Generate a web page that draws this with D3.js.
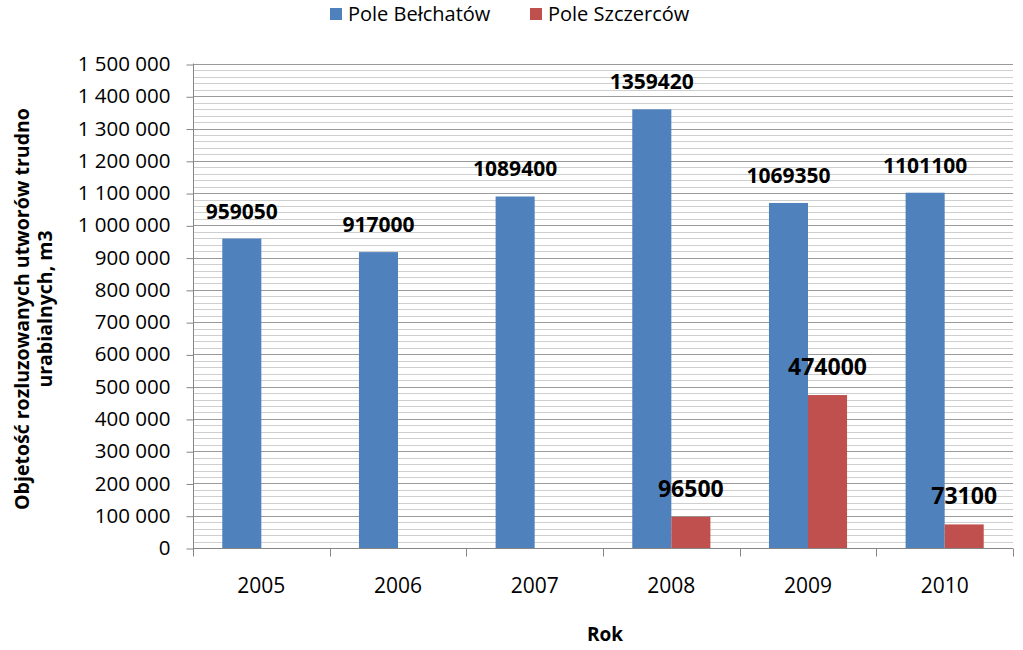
<!DOCTYPE html>
<html>
<head>
<meta charset="utf-8">
<script src="https://cdn.jsdelivr.net/npm/d3@7"></script>
<style>
  body { margin: 0; background: #fff; }
  text { font-family: "Open Sans", sans-serif; fill: #000; }
</style>
</head>
<body>
<svg id="chart" width="1023" height="650"></svg>
<script>
////////////////////////////////////////////////////////////////////////////////////
// Data
var years = ["2005", "2006", "2007", "2008", "2009", "2010"];
var seriesNames = ["Pole Bełchatów", "Pole Szczerców"];
var belchatow = [959050, 917000, 1089400, 1359420, 1069350, 1101100];
var szczercow = [null, null, null, 96500, 474000, 73100];
var yTicks = [0, 100000, 200000, 300000, 400000, 500000, 600000, 700000,
              800000, 900000, 1000000, 1100000, 1200000, 1300000, 1400000, 1500000];

var colors = ["#4F81BD", "#C0504D"];
var labelSizes = ["21px", "23px"]; // red labels are drawn a bit larger

////////////////////////////////////////////////////////////////////////////////////
// Setup
var svg = d3.select("#chart");
var plotLeft = 193, plotRight = 1013, plotTop = 64, plotBottom = 548;

var xScale = d3.scaleBand().domain(years).range([plotLeft, plotRight]).padding(0);
var yScale = d3.scaleLinear().domain([0, 1500000]).range([plotBottom, plotTop]);

// grouped bars: gap width 150% like excel
var bw = xScale.bandwidth();
var groupW = bw * 2 / 3.5;
var xInner = d3.scaleBand().domain(seriesNames).range([(bw - groupW) / 2, (bw + groupW) / 2]);

var fmt = function(d) { return d3.format(",")(d).replace(/,/g, " "); };

////////////////////////////////////////////////////////////////////////////////////
// Gridlines (minor every 20 000, major every 100 000)
var minor = d3.range(20000, 1500001, 20000).filter(function(d) { return d % 100000 != 0; });
svg.append("g").selectAll("line")
   .data(minor)
   .enter().append("line")
   .attr("x1", plotLeft).attr("x2", plotRight)
   .attr("y1", function(d) { return Math.round(yScale(d)) + 0.5; })
   .attr("y2", function(d) { return Math.round(yScale(d)) + 0.5; })
   .style("stroke", "#cfcfcf").style("stroke-width", 1);

svg.append("g").selectAll("line")
   .data(yTicks.slice(1))
   .enter().append("line")
   .attr("x1", plotLeft).attr("x2", plotRight)
   .attr("y1", function(d) { return Math.round(yScale(d)) + 0.5; })
   .attr("y2", function(d) { return Math.round(yScale(d)) + 0.5; })
   .style("stroke", "#9a9a9a").style("stroke-width", 1);

////////////////////////////////////////////////////////////////////////////////////
// Bars
var rows = years.map(function(y, i) {
  return { year: y, values: [
    { name: seriesNames[0], value: belchatow[i], color: colors[0], size: labelSizes[0] },
    { name: seriesNames[1], value: szczercow[i], color: colors[1], size: labelSizes[1] }
  ]};
});

var group = svg.selectAll(".yearGroup")
               .data(rows)
               .enter().append("g")
               .attr("class", "yearGroup")
               .attr("transform", function(d) { return "translate(" + xScale(d.year) + ",0)"; });

group.selectAll("rect")
     .data(function(d) { return d.values.filter(function(v) { return v.value != null; }); })
     .enter().append("rect")
     .attr("x", function(d) { return xInner(d.name); })
     .attr("width", xInner.bandwidth())
     .attr("y", function(d) { return yScale(d.value); })
     .attr("height", function(d) { return plotBottom - yScale(d.value); })
     .style("fill", function(d) { return d.color; });

// data labels
group.selectAll(".label")
     .data(function(d) { return d.values.filter(function(v) { return v.value != null; }); })
     .enter().append("text")
     .attr("class", "label")
     .attr("x", function(d) { return xInner(d.name) + xInner.bandwidth() / 2; })
     .attr("y", function(d) { return yScale(d.value) - 20; })
     .attr("text-anchor", "middle")
     .style("font-size", function(d) { return d.size; })
     .style("font-weight", "bold")
     .text(function(d) { return d.value; });

////////////////////////////////////////////////////////////////////////////////////
// Axes
var yAxis = svg.append("g")
               .attr("transform", "translate(" + (plotLeft + 0.5) + ",0)")
               .call(d3.axisLeft(yScale).tickValues(yTicks).tickSize(7).tickPadding(16).tickFormat(fmt));
yAxis.select(".domain").attr("d", "M0," + (plotTop - 0.5) + "V" + (plotBottom + 8));
yAxis.selectAll(".tick line").attr("transform", "translate(0,0.5)");
yAxis.selectAll("path, line").style("stroke", "#868686");
yAxis.selectAll("text").style("font-size", "20.5px").style("font-family", "Open Sans").attr("fill", "#000");

var xAxis = svg.append("g").attr("transform", "translate(0," + (plotBottom + 0.5) + ")");
xAxis.append("line")
     .attr("x1", plotLeft).attr("x2", plotRight)
     .style("stroke", "#868686");
xAxis.selectAll(".xtick")
     .data(years.concat(["end"]))
     .enter().append("line")
     .attr("x1", function(d, i) { return Math.round(plotLeft + i * bw) + 0.5; })
     .attr("x2", function(d, i) { return Math.round(plotLeft + i * bw) + 0.5; })
     .attr("y1", 0).attr("y2", 8)
     .style("stroke", "#868686");
xAxis.selectAll(".xlabel")
     .data(years)
     .enter().append("text")
     .attr("x", function(d) { return xScale(d) + bw / 2; })
     .attr("y", 44)
     .attr("text-anchor", "middle")
     .style("font-size", "21px")
     .text(function(d) { return d; });

////////////////////////////////////////////////////////////////////////////////////
// Axis titles
svg.append("text")
   .attr("x", 605).attr("y", 641)
   .attr("text-anchor", "middle")
   .style("font-size", "19px").style("font-weight", "bold")
   .text("Rok");

var yTitle = svg.append("text")
                .attr("transform", "translate(0,309) rotate(-90)")
                .attr("text-anchor", "middle")
                .style("font-size", "19.5px").style("font-weight", "bold");
yTitle.append("tspan").attr("x", 0).attr("y", 29).text("Objetość rozluzowanych utworów trudno");
yTitle.append("tspan").attr("x", 0).attr("y", 52).text("urabialnych, m3");

////////////////////////////////////////////////////////////////////////////////////
// Legend
var legendX = [330, 530];
var legend = svg.selectAll(".legend")
                .data(seriesNames)
                .enter().append("g")
                .attr("class", "legend")
                .attr("transform", function(d, i) { return "translate(" + legendX[i] + ",8)"; });
legend.append("rect")
      .attr("width", 12).attr("height", 12)
      .style("fill", function(d, i) { return colors[i]; });
legend.append("text")
      .attr("x", 18).attr("y", 13)
      .style("font-size", "20px")
      .text(function(d) { return d; });
</script>
</body>
</html>
